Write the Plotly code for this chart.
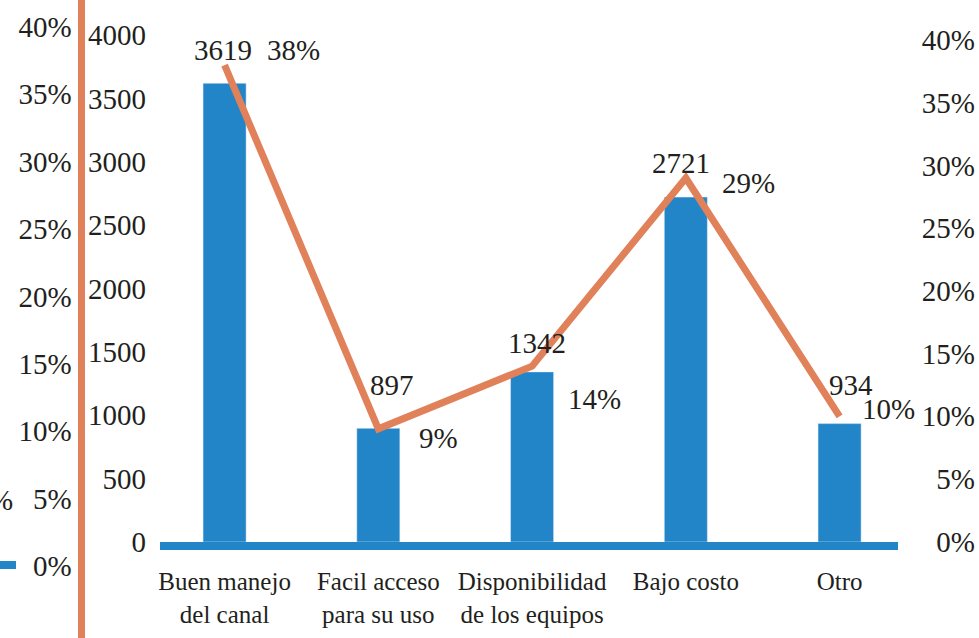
import plotly.graph_objects as go

# data
categories = ["Buen manejo<br>del canal", "Facil acceso<br>para su uso",
              "Disponibilidad<br>de los equipos", "Bajo costo", "Otro"]
counts = [3619, 897, 1342, 2721, 934]
percents = [38, 9, 14, 29, 10]
count_ticks = [0, 500, 1000, 1500, 2000, 2500, 3000, 3500, 4000]
pct_ticks = [0, 5, 10, 15, 20, 25, 30, 35, 40]
pct_labels = [f"{p}%" for p in pct_ticks]

W, H = 979, 638
BLUE = "#2185C8"
ORANGE = "#E0815A"
INK = "#231F20"
FONT = "Liberation Serif, Times New Roman, DejaVu Serif, serif"


def fx(p):
    return p / W


def fy(p):
    return 1 - p / H


# label offsets in px (dx, dy up)
bar_off = [(-2, 33), (14, 43), (5, 29), (-5, 34), (11, 39)]
line_off = [(69, 15), (60, -9), (62, -33), (63, -5), (49, 7)]

fig = go.Figure()
fig.add_bar(x=categories, y=counts, marker_color=BLUE, width=0.28,
            yaxis="y", hoverinfo="skip")
fig.add_scatter(x=categories, y=percents, mode="lines", yaxis="y2",
                line=dict(color=ORANGE, width=7), hoverinfo="skip")
# invisible trace so the outer percentage axis gets drawn
fig.add_scatter(x=categories, y=percents, mode="none", yaxis="y3",
                hoverinfo="skip", showlegend=False)

ann = []
for c, v, (dx, dy) in zip(categories, counts, bar_off):
    ann.append(dict(x=c, y=v, xref="x", yref="y", text=str(v), showarrow=False,
                    xshift=dx, yshift=dy))
for c, v, (dx, dy) in zip(categories, percents, line_off):
    ann.append(dict(x=c, y=v, xref="x", yref="y2", text=f"{v}%", showarrow=False,
                    xshift=dx, yshift=dy))
# cut-off label fragment at the left edge
ann.append(dict(x=fx(15), y=fy(490), xref="paper", yref="paper", text="10%",
                showarrow=False, xanchor="right", yanchor="middle", yshift=-10))

fig.update_layout(
    width=W, height=H,
    margin=dict(l=0, r=0, t=0, b=0, autoexpand=False),
    paper_bgcolor="white", plot_bgcolor="rgba(0,0,0,0)",
    showlegend=False,
    font=dict(family=FONT, color=INK, size=29),
    annotations=ann,
    xaxis=dict(domain=[fx(160), fx(898)], range=[-0.42, 4.38], anchor="y",
               showline=True, linecolor=BLUE, linewidth=8, showgrid=False,
               ticks="", tickfont=dict(size=25), ticklabelstandoff=10,
               automargin=False),
    yaxis=dict(domain=[fy(542), fy(35)], range=[0, 4000], anchor="free",
               position=fx(148), tickvals=count_ticks, showgrid=False,
               zeroline=False, showline=False, ticks="", ticklabelstandoff=2,
               automargin=False),
    yaxis2=dict(overlaying="y", anchor="free", side="left", position=fx(977),
                range=[-0.02, 40.4], tickvals=pct_ticks, ticktext=pct_labels,
                showgrid=False, zeroline=False, showline=False, ticks="",
                ticklabelstandoff=2, automargin=False),
    yaxis3=dict(domain=[0, 1], anchor="free", side="left", position=fx(80.5),
                range=[-5.34, 42.0], tickvals=pct_ticks, ticktext=pct_labels,
                showgrid=False, zeroline=False, showline=True,
                linecolor=ORANGE, linewidth=7, ticks="", ticklabelstandoff=0,
                automargin=False),
    shapes=[dict(type="line", xref="paper", yref="paper",
                 x0=0, x1=fx(16), y0=fy(565), y1=fy(565),
                 line=dict(color=BLUE, width=8))],
)

# drop the page's default body margin so the figure sits at 0,0
fig.write_html("out.html", config={"displayModeBar": False},
               post_script="document.body.style.margin='0';")
